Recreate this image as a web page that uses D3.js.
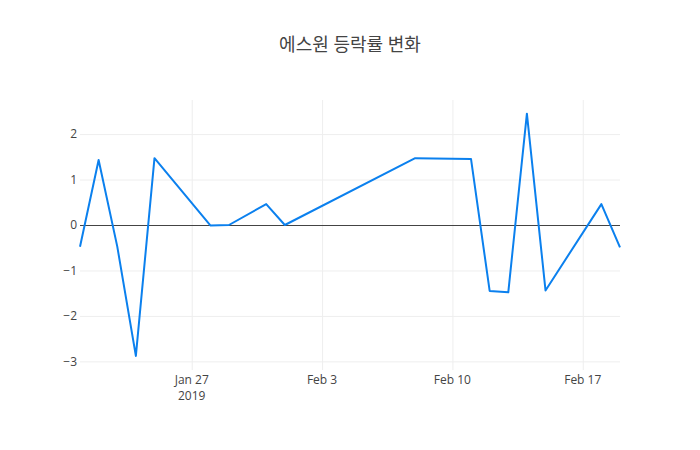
<!DOCTYPE html>
<html>
<head>
<meta charset="utf-8">
<script src="https://cdn.jsdelivr.net/npm/d3@7"></script>
<style>
  body { margin: 0; background: #fff; }
  text { font-family: "Open Sans", "Noto Sans CJK KR", sans-serif; fill: #444; }
</style>
</head>
<body>
<div id="chart"></div>
<script>
// dates and daily change rates (%)
let dates = ["2019-01-21", "2019-01-22", "2019-01-23", "2019-01-24", "2019-01-25",
  "2019-01-28", "2019-01-29", "2019-01-31", "2019-02-01", "2019-02-08",
  "2019-02-11", "2019-02-12", "2019-02-13", "2019-02-14", "2019-02-15",
  "2019-02-18", "2019-02-19"];
let rates = [-0.48, 1.43, -0.47, -2.88, 1.47,
  -0.01, 0, 0.46, 0, 1.47,
  1.45, -1.45, -1.48, 2.45, -1.44,
  0.46, -0.49];
let yTicks = [-3, -2, -1, 0, 1, 2];
let xTicks = ["2019-01-27", "2019-02-03", "2019-02-10", "2019-02-17"];
let titleText = "에스원 등락률 변화";

let parse = d3.timeParse("%Y-%m-%d");
let data = dates.map(function(d, i) { return { date: parse(d), rate: rates[i] }; });

let svgWidth = 700;
let svgHeight = 450;
let margin = { top: 100, right: 80, bottom: 80, left: 80 };
let chartWidth = svgWidth - margin.left - margin.right;
let chartHeight = svgHeight - margin.top - margin.bottom;

let xScale = d3.scaleTime()
  .domain(d3.extent(data, function(d) { return d.date; }))
  .range([0, chartWidth]);

let yScale = d3.scaleLinear()
  .domain([-3.19, 2.75])
  .range([chartHeight, 0]);

let svg = d3.select("#chart").append("svg")
  .attr("width", svgWidth)
  .attr("height", svgHeight);

svg.append("text")
  .attr("x", svgWidth / 2)
  .attr("y", 51)
  .attr("text-anchor", "middle")
  .style("font-size", "18px")
  .text(titleText);

let chartGroup = svg.append("g")
  .attr("transform", "translate(" + margin.left + "," + margin.top + ")");

// vertical grid
let xAxis = chartGroup.append("g")
  .attr("transform", "translate(0," + chartHeight + ")")
  .call(d3.axisBottom(xScale)
    .tickValues(xTicks.map(parse))
    .tickSize(-chartHeight)
    .tickFormat(""));
xAxis.select(".domain").remove();
xAxis.selectAll("line").attr("stroke", "#eee");

// horizontal grid + labels
let yAxis = chartGroup.append("g")
  .call(d3.axisLeft(yScale)
    .tickValues(yTicks)
    .tickSize(-chartWidth)
    .tickPadding(3)
    .tickFormat(function(d) { return d < 0 ? "\u2212" + Math.abs(d) : d; }));
yAxis.select(".domain").remove();
yAxis.selectAll("line").attr("stroke", function(d) { return d === 0 ? "#444" : "#eee"; });
yAxis.selectAll("text").style("font-size", "12px").attr("fill", "#444");

// x tick labels
let fmt = d3.timeFormat("%b %-d");
let xLabels = chartGroup.selectAll(".xlabel")
  .data(xTicks.map(parse))
  .enter()
  .append("text")
  .attr("class", "xlabel")
  .attr("x", function(d) { return xScale(d); })
  .attr("y", chartHeight + 14)
  .attr("text-anchor", "middle")
  .style("font-size", "12px");
xLabels.append("tspan")
  .attr("x", function(d) { return xScale(d); })
  .text(function(d) { return fmt(d); });
xLabels.filter(function(d, i) { return i === 0; })
  .append("tspan")
  .attr("x", function(d) { return xScale(d); })
  .attr("dy", 15.5)
  .text(function(d) { return d.getFullYear(); });

// line
let line = d3.line()
  .x(function(d) { return xScale(d.date); })
  .y(function(d) { return yScale(d.rate); });

chartGroup.append("path")
  .datum(data)
  .attr("d", line)
  .attr("fill", "none")
  .attr("stroke", "#0b80ee")
  .attr("stroke-width", 2)
  .attr("stroke-linejoin", "round");
</script>
</body>
</html>
